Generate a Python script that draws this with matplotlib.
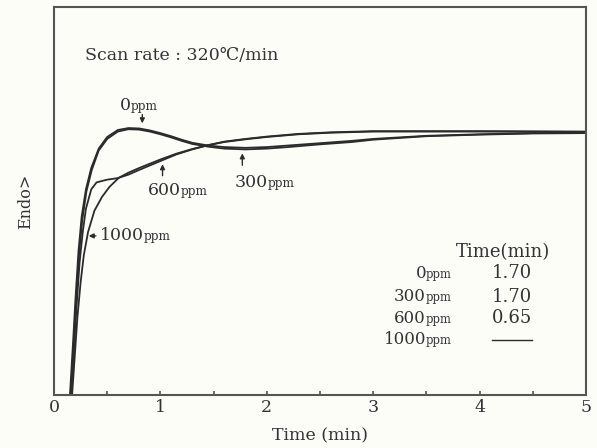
import matplotlib
matplotlib.use("Agg")
import matplotlib.pyplot as plt
from matplotlib.offsetbox import TextArea, HPacker, AnnotationBbox

plt.rcParams['font.family'] = ['DejaVu Serif', 'Noto Sans CJK JP']

# curves (time in min, signal in % of plot height)
t0 = [0.15, 0.18, 0.20, 0.23, 0.26, 0.30, 0.35, 0.42, 0.50, 0.60, 0.70, 0.80, 0.90, 1.00,
      1.10, 1.20, 1.30, 1.45, 1.60, 1.80, 2.00, 2.20, 2.50, 2.80, 3.00, 3.50, 4.00, 4.50, 5.00]
y0 = [0.0, 14.0, 24.0, 37.0, 46.0, 53.0, 58.5, 63.5, 66.5, 68.3, 68.8, 68.7, 68.2, 67.5,
      66.7, 65.8, 65.0, 64.3, 63.9, 63.7, 63.9, 64.3, 64.9, 65.5, 66.0, 66.8, 67.2, 67.5, 67.6]

t300 = [0.155, 0.185, 0.205, 0.235, 0.265, 0.305, 0.355, 0.42, 0.50, 0.60, 0.70, 0.80, 0.90, 1.00,
        1.10, 1.20, 1.30, 1.45, 1.60, 1.80, 2.00, 2.20, 2.50, 2.80, 3.00, 3.50, 4.00, 4.50, 5.00]
y300 = [0.0, 13.0, 23.0, 36.0, 45.0, 52.5, 58.0, 63.0, 66.0, 67.9, 68.5, 68.4, 67.9, 67.2,
        66.4, 65.5, 64.7, 64.0, 63.5, 63.3, 63.5, 63.9, 64.6, 65.2, 65.8, 66.7, 67.1, 67.4, 67.5]

t600 = [0.16, 0.19, 0.21, 0.24, 0.27, 0.30, 0.35, 0.40, 0.50, 0.60, 0.70, 0.80, 1.00, 1.15,
        1.30, 1.45, 1.60, 1.80, 2.00, 2.30, 2.60, 3.00, 4.00, 5.00]
y600 = [0.0, 13.0, 22.0, 34.0, 42.0, 48.0, 53.0, 54.8, 55.5, 55.9, 56.8, 58.0, 60.3, 62.0,
        63.3, 64.4, 65.2, 65.9, 66.5, 67.2, 67.6, 67.9, 67.9, 67.8]

t1000 = [0.17, 0.20, 0.22, 0.25, 0.28, 0.32, 0.38, 0.45, 0.52, 0.61, 0.70, 0.80, 1.00, 1.15,
         1.30, 1.45, 1.60, 1.80, 2.00, 2.30, 2.60, 3.00, 4.00, 5.00]
y1000 = [0.0, 12.0, 20.0, 29.0, 36.0, 42.0, 47.5, 51.0, 53.6, 56.0, 57.3, 58.5, 60.7, 62.2,
         63.4, 64.4, 65.3, 66.0, 66.6, 67.3, 67.7, 68.0, 68.0, 67.9]

# inset table
conc_labels = ['0', '300', '600', '1000']
peak_times = ['1.70', '1.70', '0.65', '']

ink = '#2b2b2b'
txt = '#333333'
fig = plt.figure(figsize=(5.97, 4.48), dpi=100, facecolor='#fdfdf8')
ax = fig.add_axes([54 / 597, 1 - 395 / 448, 532 / 597, 388 / 448])
ax.set_facecolor('#fdfdf8')

for t, y in [(t0, y0), (t300, y300), (t600, y600), (t1000, y1000)]:
    ax.plot(t, y, color=ink, lw=1.3)

ax.set_xlim(0, 5)
ax.set_ylim(0, 100)
ax.set_xticks([0, 1, 2, 3, 4, 5])
ax.set_xticks([0.5, 1.5, 2.5, 3.5, 4.5], minor=True)
ax.set_xticklabels(['0', '1', '2', '3', '4', '5'], fontsize=12.5, color=txt)
ax.tick_params(axis='x', which='both', direction='in', length=3, width=1.2, color='#555555', pad=3)
ax.set_yticks([])
for s in ax.spines.values():
    s.set_color('#555555')
    s.set_linewidth(1.5)

ax.set_xlabel('Time (min)', fontsize=12.5, color=txt, labelpad=8)
ax.set_ylabel('Endo>', fontsize=11.5, color=txt, labelpad=14)

ax.text(0.29, 87.6, 'Scan rate : 320℃/min', fontsize=12.5, color=txt, va='center')


def ppm_label(x, y, num, ha='center', size=12.5):
    box = HPacker(children=[TextArea(num, textprops=dict(fontsize=size, color=txt)),
                            TextArea('ppm', textprops=dict(fontsize=size * 0.7, color=txt))],
                  align='baseline', pad=0, sep=0)
    align = {'center': (0.5, 0.5), 'left': (0.0, 0.5), 'right': (1.0, 0.5)}[ha]
    ab = AnnotationBbox(box, (x, y), xycoords='data', frameon=False,
                        box_alignment=align, pad=0)
    ax.add_artist(ab)


arrow = dict(arrowstyle='-|>', color=ink, lw=1.0, mutation_scale=7)

ppm_label(0.80, 74.5, '0')
ax.annotate('', xy=(0.83, 69.3), xytext=(0.83, 73.0), arrowprops=arrow)

ppm_label(1.16, 52.8, '600')
ax.annotate('', xy=(1.02, 60.2), xytext=(1.02, 55.8), arrowprops=arrow)

ppm_label(1.98, 54.8, '300')
ax.annotate('', xy=(1.77, 63.0), xytext=(1.77, 58.5), arrowprops=arrow)

ppm_label(0.43, 41.0, '1000', ha='left')
ax.annotate('', xy=(0.30, 41.0), xytext=(0.42, 41.0), arrowprops=arrow)

ax.text(4.22, 36.9, 'Time(min)', fontsize=13, color=txt, ha='center', va='center')
row_y = [31.4, 25.3, 19.8, 14.2]
for lab, val, yy in zip(conc_labels, peak_times, row_y):
    ppm_label(3.74, yy, lab, ha='right', size=12)
    if val:
        ax.text(4.30, yy, val, fontsize=13, color=txt, ha='center', va='center')
    else:
        ax.plot([4.12, 4.49], [yy, yy], color=ink, lw=1.0)

fig.savefig('out.png', dpi=100, facecolor=fig.get_facecolor())
